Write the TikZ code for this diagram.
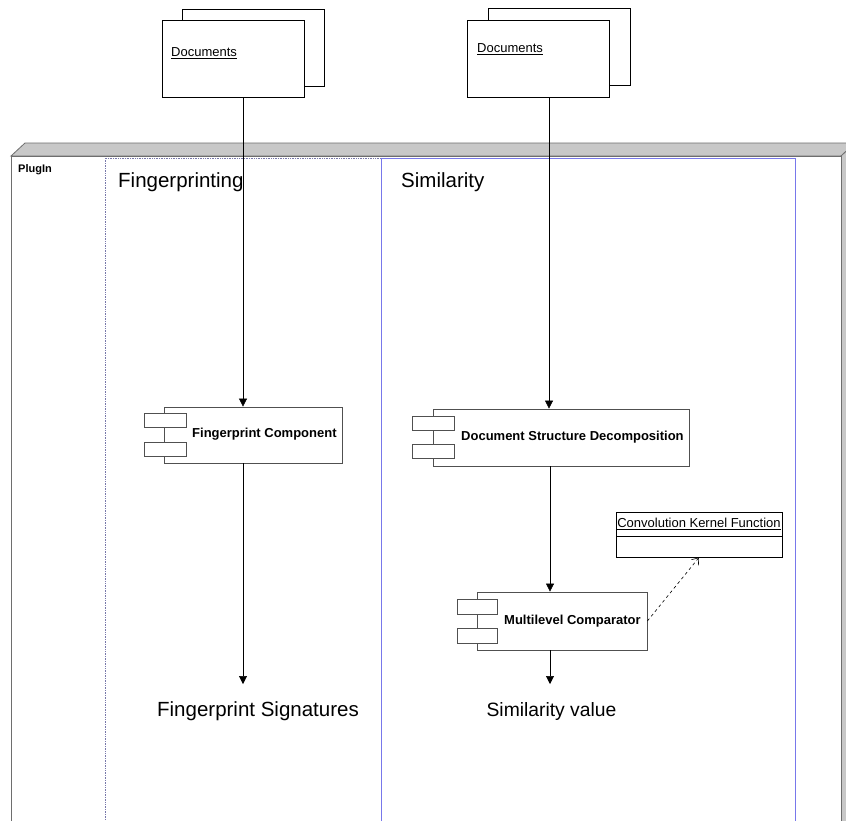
\documentclass[tikz,border=0pt]{standalone}
\usepackage{fontspec}
\setmainfont{Liberation Sans}
\usetikzlibrary{arrows.meta}
\definecolor{pkgface}{RGB}{200,200,200}
\definecolor{pkgline}{RGB}{110,110,110}
\definecolor{laneblue}{RGB}{120,120,235}
\definecolor{lanegray}{RGB}{120,120,170}
\definecolor{compline}{RGB}{80,80,80}
\tikzset{
  docbox/.style={draw=black, fill=white, line width=0.9pt, minimum width=142pt, minimum height=77pt, inner sep=0pt},
  doctext/.style={anchor=west, inner sep=0pt, font=\fontsize{13}{15}\selectfont},
  compbox/.style={draw=compline, fill=white, line width=0.8pt, inner sep=0pt},
  portbox/.style={draw=compline, fill=white, line width=0.8pt, inner sep=0pt},
  comptext/.style={anchor=west, inner sep=0pt, font=\fontsize{13}{15}\selectfont\bfseries},
  lanetext/.style={anchor=west, inner sep=0pt, font=\fontsize{20.5}{24}\selectfont},
  bigtext/.style={inner sep=0pt, font=\fontsize{20.5}{24}\selectfont},
  lanefpstyle/.style={draw=lanegray, densely dotted, line width=0.7pt},
  lanesimstyle/.style={draw=laneblue, line width=0.7pt},
  flow/.style={draw=black, line width=0.6pt, -{Triangle[width=8pt,length=8pt]}},
  dep/.style={draw=black, line width=0.6pt, dashed, -{Straight Barb[width=9pt,length=6pt]}}
}
\begin{document}
\begin{tikzpicture}[x=1pt,y=-1pt]
\useasboundingbox (0,0) rectangle (846,820);
\clip (0,0) rectangle (846,820);
\fill[white] (0,0) rectangle (846,820);

% PlugIn package (3D box)
\filldraw[fill=pkgface, draw=pkgline, line width=0.8pt] (11,156) -- (25,143) -- (855,143) -- (841,156) -- cycle;
\filldraw[fill=pkgface, draw=pkgline, line width=0.8pt] (841,156) -- (855,143) -- (855,830) -- (841,830) -- cycle;
\filldraw[fill=white, draw=pkgline, line width=0.8pt] (11,156) rectangle (841,830);
\node[anchor=west, inner sep=0pt, font=\fontsize{11}{13}\selectfont\bfseries] (plugin) at (18,170) {PlugIn};

% Lanes
\draw[lanefpstyle] (105,830) -- (105,158) -- (381,158);
\draw[lanesimstyle] (381,830) -- (381,158) -- (795,158) -- (795,830);
\node[lanetext] (lanefp) at (118,182) {Fingerprinting};
\node[lanetext] (lanesim) at (401,182) {Similarity};

% Documents (left)
\node[docbox] (doc1back) at (253.5,47.5) {};
\node[docbox] (doc1) at (233,59) {};
\node[doctext] (doc1text) at (171,53) {\underline{Documents}};

% Documents (right)
\node[docbox] (doc2back) at (559,46.5) {};
\node[docbox] (doc2) at (538,58.5) {};
\node[doctext] (doc2text) at (477,49) {\underline{Documents}};

% Fingerprint Component
\node[compbox, minimum width=178pt, minimum height=56pt] (fc) at (253,435) {};
\node[portbox, minimum width=42pt, minimum height=14pt] (fcp1) at (165,420) {};
\node[portbox, minimum width=42pt, minimum height=14pt] (fcp2) at (165,449) {};
\node[comptext] (fctext) at (192,434) {Fingerprint Component};

% Document Structure Decomposition
\node[compbox, minimum width=256pt, minimum height=57pt] (dsd) at (561,437.5) {};
\node[portbox, minimum width=42pt, minimum height=14pt] (dsdp1) at (433,423) {};
\node[portbox, minimum width=42pt, minimum height=14pt] (dsdp2) at (433,451.5) {};
\node[comptext] (dsdtext) at (461,437) {Document Structure Decomposition};

% Multilevel Comparator
\node[compbox, minimum width=170pt, minimum height=58pt] (mc) at (562,621) {};
\node[portbox, minimum width=40pt, minimum height=15pt] (mcp1) at (477,606.5) {};
\node[portbox, minimum width=40pt, minimum height=15pt] (mcp2) at (477,635.5) {};
\node[comptext] (mctext) at (504,621) {Multilevel Comparator};

% Convolution Kernel Function
\node[draw=black, fill=white, line width=0.9pt, minimum width=166pt, minimum height=45pt, inner sep=0pt] (ckf) at (699,534.5) {};
\draw[black, line width=0.9pt] (616,536) -- (782,536);
\node[inner sep=0pt, font=\fontsize{13}{15}\selectfont] (ckftext) at (699,524) {\underline{Convolution Kernel Function}};

% Outputs
\coordinate (fcout) at (243,684);
\coordinate (mcout) at (550,684);
\node[bigtext] (fpsig) at (258,711) {Fingerprint Signatures};
\node[bigtext, font=\fontsize{19.3}{23}\selectfont] (simval) at (551.5,711) {Similarity value};

% Connectors
\draw[flow] (doc1.south -| 243,0) -- (fc.north -| 243,0);
\draw[flow] (doc2.south -| 549,0) -- (dsd.north -| 549,0);
\draw[flow] (dsd.south -| 550,0) -- (mc.north -| 550,0);
\draw[flow] (fc.south -| 243,0) -- (fcout);
\draw[flow] (mc.south -| 550,0) -- (mcout);
\draw[dep] (mc.east) -- (ckf.south);
\end{tikzpicture}
\end{document}
